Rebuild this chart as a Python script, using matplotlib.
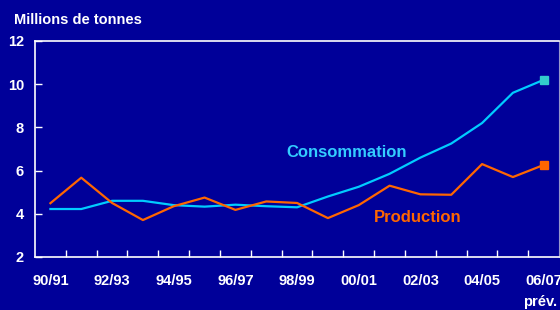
import matplotlib
matplotlib.use("Agg")
import matplotlib.pyplot as plt
import numpy as np

plt.rcParams['font.family'] = ['Liberation Sans', 'DejaVu Sans']

# Campagnes 90/91 .. 06/07
seasons = ['90/91', '91/92', '92/93', '93/94', '94/95', '95/96', '96/97', '97/98',
           '98/99', '99/00', '00/01', '01/02', '02/03', '03/04', '04/05', '05/06', '06/07']
consommation = [4.22, 4.22, 4.6, 4.6, 4.4, 4.33, 4.42, 4.35, 4.3, 4.8, 5.25, 5.85,
                6.6, 7.25, 8.2, 9.6, 10.2]
production = [4.49, 5.67, 4.5, 3.71, 4.35, 4.75, 4.18, 4.57, 4.5, 3.8, 4.4, 5.3,
              4.9, 4.88, 6.3, 5.7, 6.26]

bg = '#000099'
c_cons = '#00CCFF'
c_prod = '#FF6600'

fig = plt.figure(figsize=(5.6, 3.1), dpi=100, facecolor=bg)
ax = fig.add_axes([0.0625, 0.171, 0.936, 0.697], facecolor=bg)

x = np.arange(len(seasons))
ax.plot(x, consommation, color=c_cons, lw=1.6)
ax.plot(x, production, color=c_prod, lw=1.6)
ax.plot(x[-1], consommation[-1], 's', color='#33CCCC', ms=6)
ax.plot(x[-1], production[-1], 's', color=c_prod, ms=6)

ax.set_xlim(-0.5, len(seasons) - 0.5)
ax.set_ylim(2, 12)
ax.set_yticks([2, 4, 6, 8, 10, 12])

ax.set_xticks(x[::2])
ax.set_xticklabels(seasons[::2])
ax.set_xticks(x[:-1] + 0.5, minor=True)
ax.tick_params(axis='x', which='major', length=0, pad=12, colors='white', labelsize=10.5)
ax.tick_params(axis='x', which='minor', direction='in', length=5, color='white', width=1)
ax.tick_params(axis='y', direction='in', length=5, color='white', width=1,
               colors='white', labelsize=10.5, pad=8)
for lab in ax.get_xticklabels() + ax.get_yticklabels():
    lab.set_fontweight('bold')
    lab.set_color('white')

for side in ['left', 'bottom', 'top']:
    ax.spines[side].set_color('white')
    ax.spines[side].set_linewidth(1.2)
ax.spines['right'].set_color('#9999CC')

ax.text(9.6, 6.85, 'Consommation', color='#33CCFF', fontsize=12, fontweight='bold',
        ha='center', va='center')
ax.text(11.9, 3.85, 'Production', color=c_prod, fontsize=12, fontweight='bold',
        ha='center', va='center')

fig.text(0.025, 0.935, 'Millions de tonnes', color='white', fontsize=10.5,
         fontweight='bold', ha='left', va='center')
fig.text(0.995, 0.025, 'prév.', color='white', fontsize=10.5,
         fontweight='bold', ha='right', va='center')

fig.savefig('out.png', dpi=100, facecolor=bg)
